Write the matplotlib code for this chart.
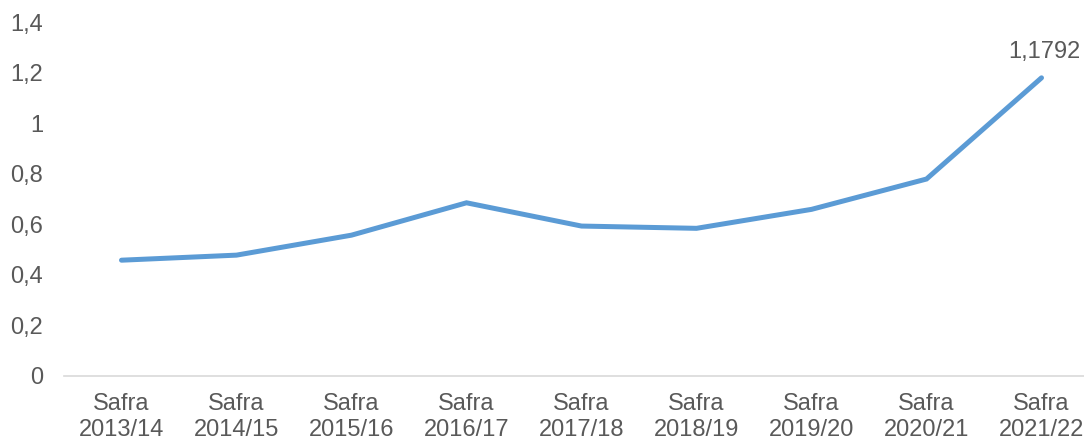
import matplotlib.pyplot as plt
import numpy as np

plt.rcParams['font.family'] = ['Liberation Sans', 'DejaVu Sans']

# harvest seasons and values
safras = ['2013/14', '2014/15', '2015/16', '2016/17', '2017/18',
          '2018/19', '2019/20', '2020/21', '2021/22']
valores = [0.458, 0.478, 0.557, 0.685, 0.593, 0.584, 0.659, 0.779, 1.1792]

labels = ['Safra\n' + s for s in safras]
grey = '#595959'

fig = plt.figure(figsize=(10.84, 4.41), dpi=100)
ax = fig.add_axes([64 / 1084, 65 / 441, 1020 / 1084, 354 / 441])

x = np.arange(len(safras))
ax.plot(x, valores, color='#5B9BD5', lw=3.6, solid_capstyle='round',
        solid_joinstyle='miter')

# value label on the last point
ax.annotate('1,1792', (x[-1], valores[-1]), xytext=(2, 11),
            textcoords='offset points', ha='center', va='bottom',
            fontsize=17, color=grey)

ax.set_xlim(-0.5, -0.5 + 1020 / 115)
ax.set_ylim(0, 1.4)
ax.set_yticks(np.arange(0, 1.41, 0.2))
ax.set_yticklabels(['0', '0,2', '0,4', '0,6', '0,8', '1', '1,2', '1,4'])
ax.set_xticks(x)
ax.set_xticklabels(labels, linespacing=1.28)

ax.tick_params(axis='both', length=0, labelsize=17, labelcolor=grey)
ax.tick_params(axis='y', pad=15)
ax.tick_params(axis='x', pad=12)

for s in ['top', 'right', 'left']:
    ax.spines[s].set_visible(False)
ax.spines['bottom'].set_color('#D9D9D9')
ax.spines['bottom'].set_linewidth(1.2)

fig.savefig('out.png', dpi=100)
